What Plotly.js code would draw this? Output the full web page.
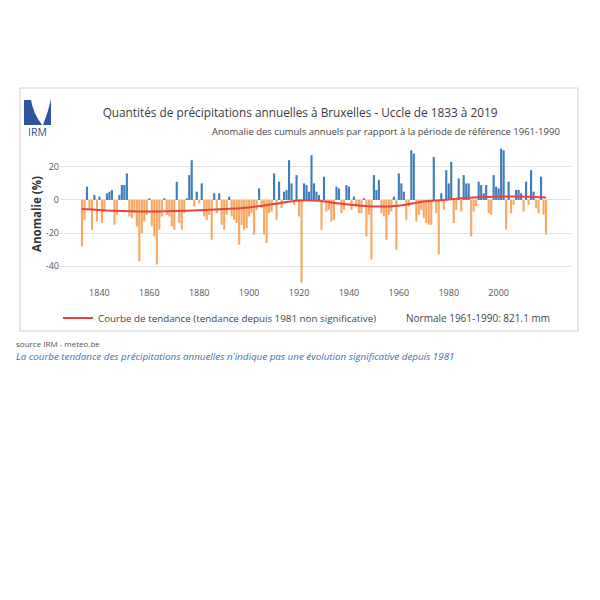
<!DOCTYPE html>
<html>
<head>
<meta charset="utf-8">
<script src="https://cdn.plot.ly/plotly-3.0.1.min.js"></script>
<style>
html,body{margin:0;padding:0;background:#fff;}
#chart{width:600px;height:600px;}
</style>
</head>
<body>
<div id="chart"></div>
<script>
// Years 1833..2019
const startYear = 1833;
const anomalies = [
  // 1833-1842
  -28, -12, 8, -6, -18, 3, -13, 2, -14, -7,
  // 1843-1852
  4, 5, 6, -15, -9, 3, 9, 9, 16, -10,
  // 1853-1862
  -11, -8, -16, -37, -20, -13, -9, 1, -16, -22,
  // 1863-1872
  -39, -18, -10, 1, -9, -10, -16, -18, 11, -14,
  // 1873-1882
  -18, -8, 1, 15, 24, -4, 5, -2, 10, -10,
  // 1883-1892
  -12, -9, -24, 4, -8, 4, -15, -18, -9, 2,
  // 1893-1902
  -10, -12, -14, -27, -15, -18, -17, -10, -8, -21,
  // 1903-1912
  -6, 7, -5, -21, -26, -8, -7, 16, -12, 11,
  // 1913-1922
  -5, 5, 6, 24, 10, -3, 15, -10, -50, 10,
  // 1923-1932
  9, 5, 27, 10, 5, 3, -18, 14, -7, -6,
  // 1933-1942
  -13, -12, 8, 7, -8, -6, 9, 8, -6, 2,
  // 1943-1952
  -4, -8, -8, 1, -22, -9, -36, 15, 6, 12,
  // 1953-1962
  -8, -10, -24, -9, -7, 2, -30, 16, 10, 5,
  // 1963-1972
  -12, -4, 30, 28, -13, -9, -6, -11, -14, -15,
  // 1973-1982
  -15, 26, -8, -33, 4, -6, 18, 10, 23, -14,
  // 1983-1992
  -6, 13, -7, 15, 10, 10, -22, -7, -4, 11,
  // 1993-2002
  9, 4, 9, -8, -9, 15, 8, 7, 31, 30,
  // 2003-2012
  -18, 11, -8, -3, 6, 6, 4, -7, 11, -3,
  // 2013-2019
  18, 5, -5, -8, 14, -9, -21
];
const years = anomalies.map((v, i) => startYear + i);

const trendYears  = [1833, 1845, 1860, 1875, 1890, 1900, 1910, 1920, 1928, 1935, 1945, 1955, 1962, 1970, 1978, 1985, 1995, 2005, 2019];
const trendValues = [-5.5, -6.5, -7, -6.5, -5.5, -4.5, -2.5, -0.3, -0.5, -2, -3.5, -4, -3, -1, 0, 1, 1.8, 2, 1.5];

const xTickVals = [1840, 1860, 1880, 1900, 1920, 1940, 1960, 1980, 2000];
const yTickVals = [-40, -20, 0, 20];

const titleText = "Quantités de précipitations annuelles à Bruxelles - Uccle de 1833 à 2019";
const subtitleText = "Anomalie des cumuls annuels par rapport à la période de référence 1961-1990";
const trendName = "Courbe de tendance (tendance depuis 1981 non significative)";
const normaleText = "Normale 1961-1990: 821.1 mm";
const sourceText = "source IRM - meteo.be";
const noteText = "La courbe tendance des précipitations annuelles n'indique pas une évolution significative depuis 1981";

const BLUE = "#3f7cbb";
const ORANGE = "#f7a862";
const RED = "#e8433f";
const FONT = "Open Sans, Liberation Sans, sans-serif";

// pixel -> paper helpers (layout decoration only)
const px = x => x / 600;
const py = y => 1 - y / 600;
function pathPx(cmds) {
  return cmds.map(c => {
    if (c.length === 1) return c[0];
    const out = [c[0]];
    for (let i = 1; i < c.length; i += 2) out.push(px(c[i]).toFixed(4) + "," + py(c[i + 1]).toFixed(4));
    return out.join(" ");
  }).join(" ");
}

const barTrace = {
  type: "bar",
  x: years,
  y: anomalies,
  marker: { color: anomalies.map(v => v >= 0 ? BLUE : ORANGE), line: { width: 0 } },
  width: 0.85,
  showlegend: false,
  hoverinfo: "skip"
};

const trendTrace = {
  type: "scatter",
  mode: "lines",
  x: trendYears,
  y: trendValues,
  line: { color: RED, width: 2, shape: "spline", smoothing: 1.0 },
  name: trendName,
  showlegend: true
};

const layout = {
  width: 600,
  height: 600,
  margin: { l: 0, r: 0, t: 0, b: 0 },
  paper_bgcolor: "#ffffff",
  plot_bgcolor: "#ffffff",
  font: { family: FONT, color: "#444" },
  title: {
    text: titleText,
    x: px(300), xref: "paper", xanchor: "center",
    y: py(113), yref: "paper", yanchor: "middle",
    font: { size: 11.8, color: "#3a3a3a", family: FONT }
  },
  xaxis: {
    domain: [px(60), px(572)],
    range: [1824.2, 2029.4],
    tickvals: xTickVals,
    ticktext: xTickVals.map(String),
    ticks: "",
    showgrid: false,
    zeroline: false,
    showline: false,
    tickfont: { size: 9, color: "#555" },
    fixedrange: true
  },
  yaxis: {
    domain: [py(286), py(142)],
    range: [-52, 35],
    tickvals: yTickVals,
    ticktext: yTickVals.map(String),
    ticks: "",
    showgrid: true,
    gridcolor: "#e2e2e2",
    gridwidth: 1,
    zeroline: false,
    showline: false,
    tickfont: { size: 9, color: "#555" },
    title: { text: "Anomalie (%)", font: { size: 11.5, color: "#333", weight: "bold" }, standoff: 1 },
    fixedrange: true
  },
  bargap: 0.15,
  showlegend: true,
  legend: {
    orientation: "h",
    x: px(58), xanchor: "left",
    y: py(318), yanchor: "middle",
    font: { size: 9.8, color: "#444" },
    bgcolor: "rgba(0,0,0,0)"
  },
  shapes: [
    { type: "rect", xref: "paper", yref: "paper", x0: px(20), x1: px(578), y0: py(331), y1: py(88),
      line: { color: "#d0d0d0", width: 1 }, fillcolor: "rgba(0,0,0,0)", layer: "below" },
    { type: "path", xref: "paper", yref: "paper",
      path: pathPx([["M", 24, 100], ["L", 31, 100], ["Q", 33, 113, 42, 125], ["L", 24, 125], ["Z"]]),
      fillcolor: "#2d55a0", line: { width: 0 } },
    { type: "path", xref: "paper", yref: "paper",
      path: pathPx([["M", 51, 99], ["L", 51, 125], ["L", 43, 125], ["Q", 48, 113, 51, 99], ["Z"]]),
      fillcolor: "#2d55a0", line: { width: 0 } }
  ],
  annotations: [
    { text: subtitleText, xref: "paper", yref: "paper", x: px(562), y: py(132),
      xanchor: "right", yanchor: "middle", showarrow: false,
      font: { size: 9.5, color: "#444" } },
    { text: "IRM", xref: "paper", yref: "paper", x: px(37), y: py(132),
      xanchor: "center", yanchor: "middle", showarrow: false,
      font: { size: 10.5, color: "#2d55a0" } },
    { text: normaleText, xref: "paper", yref: "paper", x: px(404), y: py(318),
      xanchor: "left", yanchor: "middle", showarrow: false,
      font: { size: 10, color: "#444" } },
    { text: sourceText, xref: "paper", yref: "paper", x: px(14), y: py(343),
      xanchor: "left", yanchor: "middle", showarrow: false,
      font: { size: 8, color: "#555" } },
    { text: "<i>" + noteText + "</i>", xref: "paper", yref: "paper", x: px(14), y: py(356),
      xanchor: "left", yanchor: "middle", showarrow: false,
      font: { size: 9.8, color: "#3b72a8" } }
  ]
};

Plotly.newPlot("chart", [barTrace, trendTrace], layout, { staticPlot: true, displayModeBar: false });
</script>
</body>
</html>
